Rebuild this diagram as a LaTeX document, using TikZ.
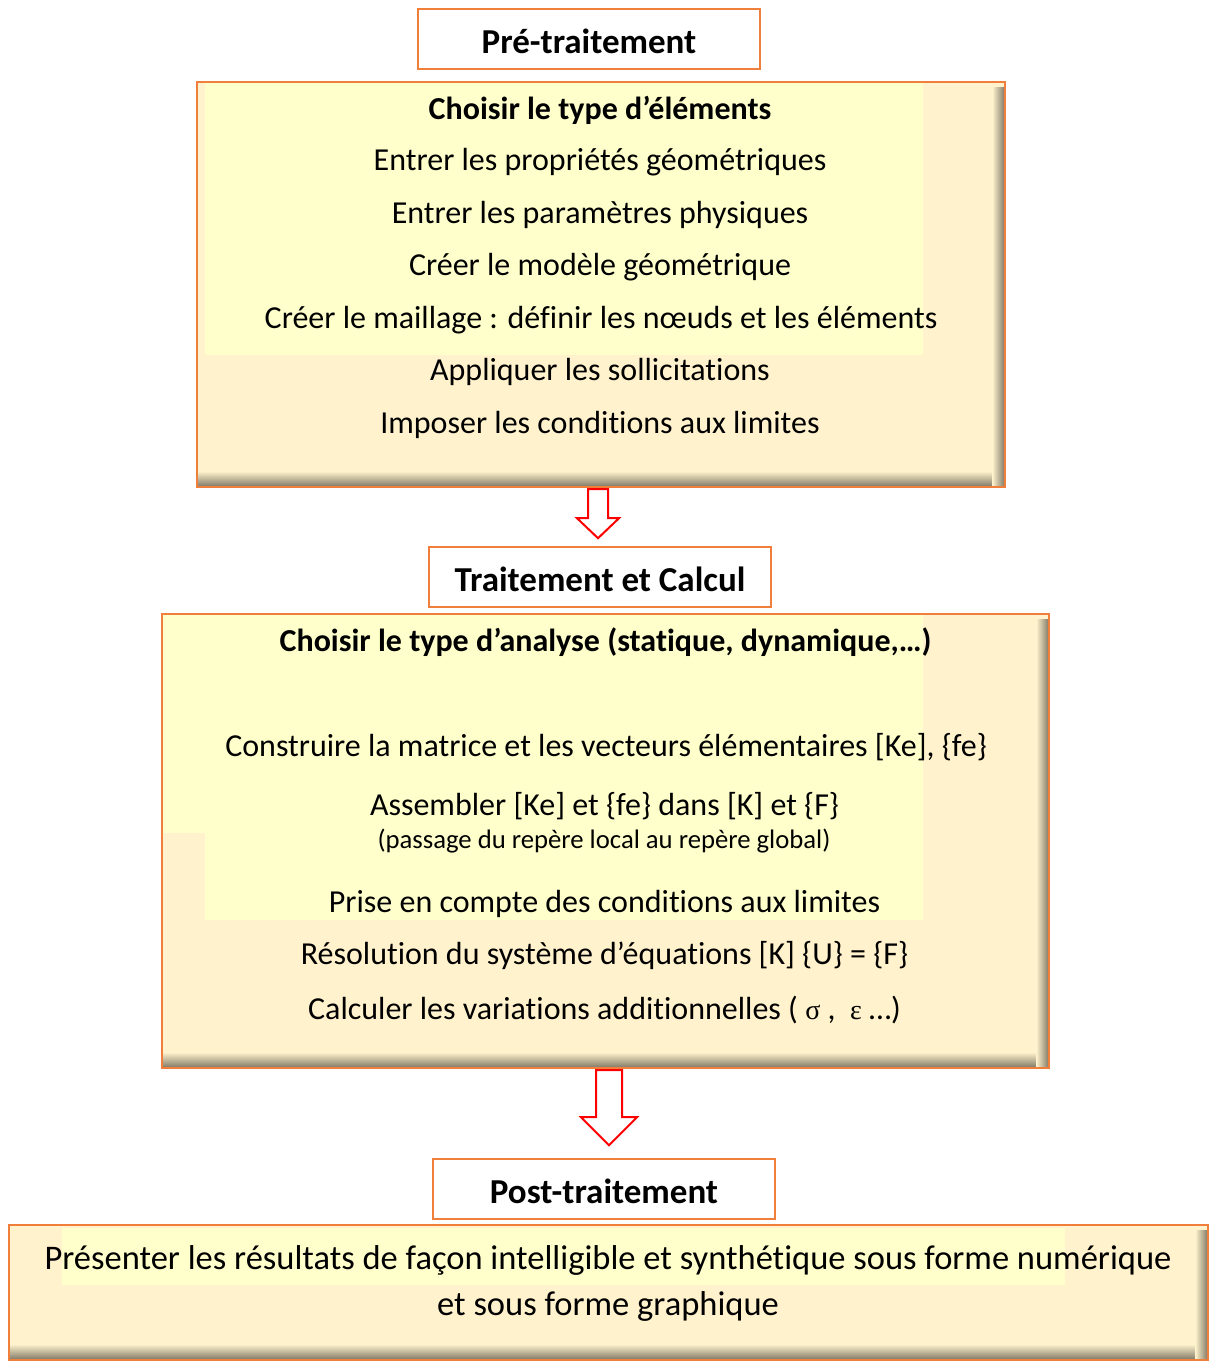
\documentclass[tikz,border=0pt]{standalone}
\usepackage{fontspec}
\setmainfont[Ligatures={NoCommon}]{Carlito}
\newfontfamily\greekfont{Liberation Serif}
\usetikzlibrary{calc}

\definecolor{fcOrange}{HTML}{F07F3C}
\definecolor{fcCream}{HTML}{FFF2CC}
\definecolor{fcLight}{HTML}{FFFFCC}
\definecolor{fcShadow}{HTML}{7A7462}
\definecolor{fcRed}{HTML}{FF0000}

\begin{document}
\begin{tikzpicture}[x=1pt,y=-1pt,
  titlebox/.style={draw=fcOrange,line width=2pt,fill=white,minimum width=342pt,
    minimum height=60pt,inner sep=0pt,text height=30pt,text depth=1pt,
    font=\fontsize{35}{40}\selectfont\bfseries},
  panel/.style={fill=fcCream,inner sep=0pt},
  frame/.style={draw=fcOrange,line width=2.5pt},
  stepline/.style={inner sep=0pt,yshift=-2pt,font=\fontsize{32}{38}\selectfont},
  headline/.style={stepline,font=\fontsize{32}{38}\selectfont\bfseries},
  smallline/.style={inner sep=0pt,yshift=-2pt,font=\fontsize{26.7}{31}\selectfont},
  blockarrow/.style={draw=fcRed,line width=2pt,fill=white,line join=miter}]
  \useasboundingbox (0,0) rectangle (1208,1363);

  % Pre-traitement
  \node[titlebox] (pretitle) at (589,39) {Pré-traitement};
  \node[panel,minimum width=808pt,minimum height=405pt] (pre) at (601,284.5) {};
  \fill[fcLight] (205,83) rectangle (923,355);
  \shade[top color=fcCream,bottom color=fcShadow] ($(pre.south west)+(0,-16)$) rectangle (pre.south east);
  \shade[left color=fcCream,right color=fcShadow] ($(pre.north east)+(-13,6)$) rectangle (pre.south east);
  \draw[frame] (pre.north west) rectangle (pre.south east);

  \node[headline] (p1) at (600,108) {Choisir le type d’éléments};
  \node[stepline] (p2) at (600,160) {Entrer les propriétés géométriques};
  \node[stepline] (p3) at (600,213) {Entrer les paramètres physiques};
  \node[stepline] (p4) at (600,265) {Créer le modèle géométrique};
  \node[stepline] (p5) at (601,318) {Créer le maillage : définir les nœuds et les éléments};
  \node[stepline] (p6) at (600,370) {Appliquer les sollicitations};
  \node[stepline] (p7) at (600,423) {Imposer les conditions aux limites};

  % Traitement et Calcul
  \node[titlebox] (calctitle) at (600,577) {Traitement et Calcul};
  \node[panel,minimum width=887pt,minimum height=454pt] (calc) at (605.5,841) {};
  \fill[fcLight] (163,615) rectangle (923,833);
  \fill[fcLight] (205,833) rectangle (923,920);
  \shade[top color=fcCream,bottom color=fcShadow] ($(calc.south west)+(0,-16)$) rectangle (calc.south east);
  \shade[left color=fcCream,right color=fcShadow] ($(calc.north east)+(-13,6)$) rectangle (calc.south east);
  \draw[frame] (calc.north west) rectangle (calc.south east);

  \node[headline] (c1) at (605.5,640) {Choisir le type d’analyse (statique, dynamique,…)};
  \node[stepline] (c2) at (606,745) {Construire la matrice et les vecteurs élémentaires [Ke], \{fe\}};
  \node[stepline] (c3) at (604.5,804) {Assembler [Ke] et \{fe\} dans [K] et \{F\}};
  \node[smallline] (c4) at (604,839) {(passage du repère local au repère global)};
  \node[stepline] (c5) at (604.5,902) {Prise en compte des conditions aux limites};
  \node[stepline] (c6) at (604.5,954) {Résolution du système d’équations [K] \{U\} = \{F\}};
  \node[stepline] (c7) at (604.5,1008) {Calculer les variations additionnelles ( {\greekfont\fontsize{28}{32}\selectfont σ} ,\ \ {\greekfont\fontsize{28}{32}\selectfont ε} …)};

  % Post-traitement
  \node[titlebox] (posttitle) at (604,1189) {Post-traitement};
  \node[panel,minimum width=1199pt,minimum height=135pt] (post) at (608.5,1292.5) {};
  \fill[fcLight] (62,1228) rectangle (1065,1285);
  \shade[top color=fcCream,bottom color=fcShadow] ($(post.south west)+(0,-16)$) rectangle (post.south east);
  \shade[left color=fcCream,right color=fcShadow] ($(post.north east)+(-13,6)$) rectangle (post.south east);
  \draw[frame] (post.north west) rectangle (post.south east);

  \node[stepline,font=\fontsize{34.5}{40}\selectfont] (r1) at (608,1258) {Présenter les résultats de façon intelligible et synthétique sous forme numérique};
  \node[stepline,font=\fontsize{34.5}{40}\selectfont] (r2) at (608,1304) {et sous forme graphique};

  % arrows between the stages
  \path (pre.south) ++(-3,2) coordinate (a1);
  \draw[blockarrow] (a1) ++(-10,0) -- ++(0,29) -- ++(-11,0) -- ++(21,20) -- ++(21,-20) -- ++(-11,0) -- ++(0,-29) -- cycle;
  \path (calc.south) ++(3.5,2) coordinate (a2);
  \draw[blockarrow] (a2) ++(-13,0) -- ++(0,47) -- ++(-15,0) -- ++(28,28) -- ++(28,-28) -- ++(-15,0) -- ++(0,-47) -- cycle;
\end{tikzpicture}
\end{document}
